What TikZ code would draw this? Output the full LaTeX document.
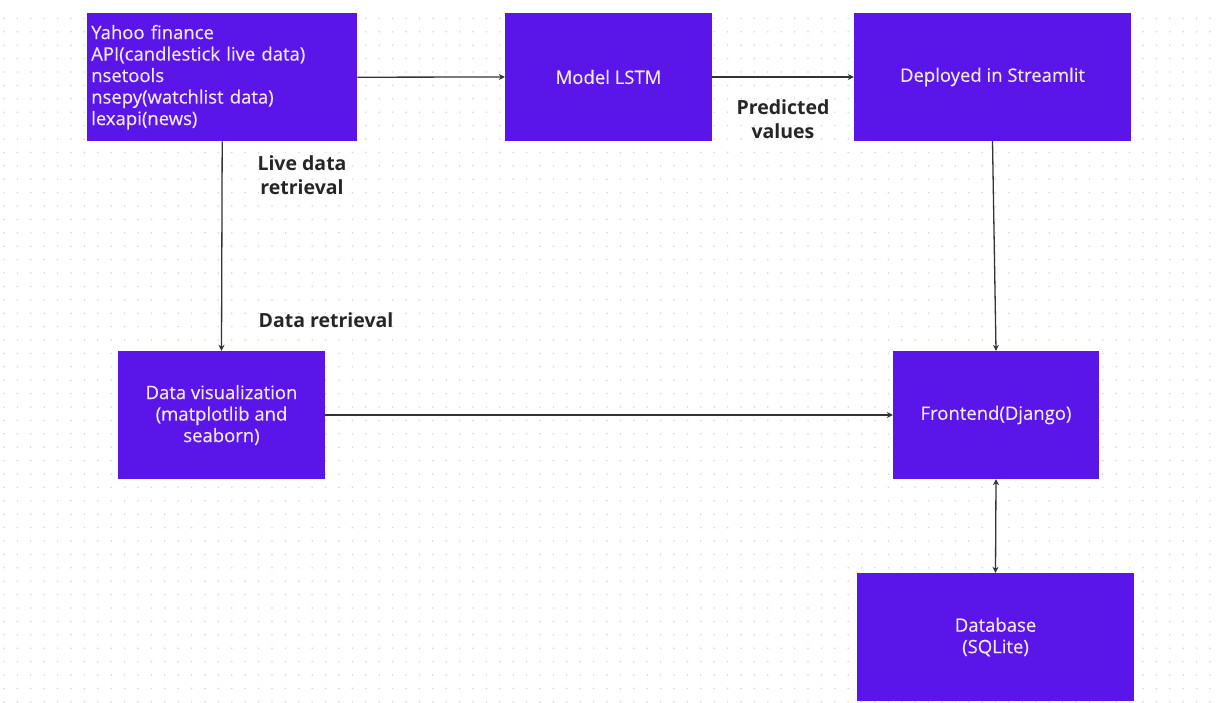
\documentclass[tikz,border=0pt]{standalone}
\usepackage{fontspec}
\setmainfont{Open Sans}
\newfontfamily\boxfont[FakeBold=0.3]{Open Sans}
\usetikzlibrary{arrows.meta}
\definecolor{boxpurple}{HTML}{5A16E8}
\definecolor{boxtext}{HTML}{F1E8F8}
\definecolor{dotgray}{HTML}{D6D6D6}
\tikzset{
  pbox/.style={draw=none, fill=boxpurple, text=boxtext, font=\boxfont\fontsize{18.5}{21.5}\selectfont, align=center, inner sep=0pt},
  lbl/.style={font=\fontsize{19.5}{24}\selectfont\bfseries, text=black!85, align=center, inner sep=0pt},
  conn/.style={draw=black!80, line width=1.3pt, -{Stealth[length=6pt,width=6pt]}},
  biconn/.style={draw=black!80, line width=1.3pt, {Stealth[length=6pt,width=6pt]}-{Stealth[length=6pt,width=6pt]}}
}
\begin{document}
\begin{tikzpicture}[x=1pt,y=-1pt]
\useasboundingbox (0,0) rectangle (1220,702);
\fill[white] (0,0) rectangle (1220,702);
% dotted background
\foreach \i in {0,...,90}{
  \foreach \j in {1,...,52}{
    \fill[dotgray] (4+13.4*\i,5+13.4*\j) circle (0.85);
  }
}
% boxes
\node[pbox, minimum width=270, minimum height=128, anchor=north west, align=left, text width=264] (src) at (87,13)
  {\hspace*{1pt}Yahoo finance\\\hspace*{1pt}API(candlestick live data)\\\hspace*{1pt}nsetools\\\hspace*{1pt}nsepy(watchlist data)\\\hspace*{1pt}lexapi(news)\\[14pt]};
\node[pbox, minimum width=207, minimum height=128] (lstm) at (608.5,77) {Model LSTM};
\node[pbox, minimum width=277, minimum height=128] (stream) at (992.5,77) {Deployed in Streamlit};
\node[pbox, minimum width=207, minimum height=128] (viz) at (221.5,415) {Data visualization\\(matplotlib and\\seaborn)};
\node[pbox, minimum width=206, minimum height=128] (front) at (996,415) {Frontend(Django)};
\node[pbox, minimum width=277, minimum height=128] (db) at (995.5,637) {Database\\(SQLite)};
% labels
\node[lbl] (l1) at (302,175) {Live data\\retrieval};
\node[lbl] (l2) at (326,320) {Data retrieval};
\node[lbl] (l3) at (783,119) {Predicted\\values};
% connectors
\draw[conn] (src.east) -- (lstm.west);
\draw[conn] (lstm.east) -- (stream.west);
\draw[conn] (src.south) -- (viz.north);
\draw[conn] (stream.south) -- (front.north);
\draw[conn] (viz.east) -- (front.west);
\draw[biconn] (front.south) -- (db.north);
\end{tikzpicture}
\end{document}
